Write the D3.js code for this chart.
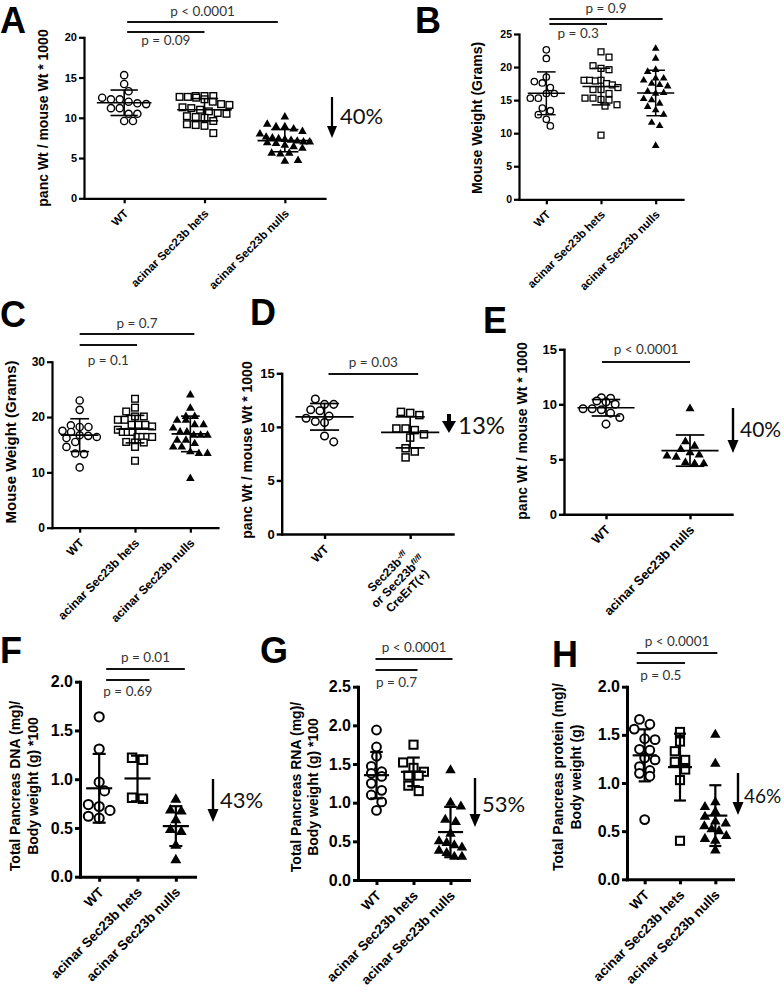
<!DOCTYPE html>
<html><head><meta charset="utf-8">
<script src="https://cdn.jsdelivr.net/npm/d3@7"></script>
<style>
body{margin:0;background:#fff}
svg{display:block}
</style></head><body>
<svg id="fig" width="784" height="995"></svg>
<script>
// ---------------- data ----------------
const cats3 = ["WT", "acinar Sec23b hets", "acinar Sec23b nulls"];
const catsD = ["WT", "Sec23b-/fl or Sec23bfl/fl CreErT(+)"];
const catsE = ["WT", "acinar Sec23b nulls"];

// A: panc Wt / mouse Wt * 1000
const A_WT    = [15.3, 14.2, 13.3, 12.5, 12.3, 12.3, 12.0, 11.8, 11.7, 11.2, 11.2, 10.5, 10.5, 9.6, 9.6];
const A_hets  = [12.7, 12.7, 12.6, 12.6, 12.5, 12.7, 12.3, 12.0, 11.7, 11.6, 11.3, 11.2, 11.0, 10.8, 10.6, 10.5, 10.2, 10.1, 10.0, 9.6, 9.2, 9.1, 9.0, 8.1];
const A_nulls = [10.1, 9.2, 8.9, 8.9, 8.6, 8.3, 8.0, 7.6, 7.5, 7.4, 7.3, 7.2, 7.1, 7.0, 7.0, 6.9, 6.8, 6.6, 6.4, 6.2, 5.6, 5.5, 5.6, 4.7, 4.6];
// B: mouse weight (g)
const B_WT    = [22.6, 21.3, 18.5, 17.8, 17.6, 16.9, 16.0, 16.0, 15.3, 15.3, 13.8, 13.4, 12.8, 12.1, 11.1];
const B_hets  = [22.3, 21.5, 20.2, 19.8, 19.6, 18.0, 18.0, 17.9, 18.0, 17.5, 17.3, 16.9, 16.6, 16.6, 16.0, 15.3, 15.3, 15.1, 15.0, 14.3, 14.1, 9.7];
const B_nulls = [22.8, 21.3, 19.6, 19.3, 18.3, 18.3, 18.0, 17.5, 17.3, 17.1, 16.3, 16.0, 16.1, 15.2, 15.0, 14.5, 14.0, 13.5, 12.8, 11.6, 11.1, 8.1];
// C: mouse weight (g)
const C_WT    = [23.0, 21.3, 18.5, 18.2, 18.2, 17.5, 17.3, 16.7, 16.6, 16.4, 16.2, 15.5, 14.6, 13.4, 13.3, 10.9];
const C_hets  = [23.3, 21.7, 21.0, 20.1, 20.1, 19.5, 19.5, 18.6, 18.6, 18.6, 18.3, 17.7, 17.3, 17.3, 17.3, 16.4, 16.4, 16.4, 16.4, 15.5, 15.4, 15.4, 14.6, 12.1];
const C_nulls = [24.0, 21.6, 20.1, 20.1, 19.4, 19.4, 18.6, 18.6, 18.0, 17.3, 17.3, 16.7, 16.7, 16.7, 15.8, 15.8, 15.2, 14.6, 14.6, 13.7, 13.4, 13.4, 8.9];
// D: panc Wt / mouse Wt * 1000
const D_WT    = [12.6, 12.1, 12.1, 11.6, 11.5, 11.0, 10.8, 10.5, 10.4, 9.15, 8.6];
const D_mut   = [11.4, 11.3, 11.1, 9.85, 9.85, 9.7, 9.3, 9.0, 8.0, 7.7, 7.15];
// E: panc Wt / mouse Wt * 1000
const E_WT    = [10.6, 10.55, 10.3, 10.2, 10.0, 9.6, 9.6, 9.5, 9.2, 8.8, 8.2];
const E_nulls = [9.6, 6.6, 6.2, 5.9, 5.6, 5.4, 5.3, 5.2, 4.7, 4.6, 4.6];
// F: total pancreas DNA
const F_WT    = [1.64, 1.31, 0.97, 0.88, 0.74, 0.72, 0.68, 0.62, 0.60];
const F_hets  = [1.22, 1.20, 0.81, 0.80];
const F_nulls = [0.79, 0.68, 0.67, 0.58, 0.48, 0.46, 0.32, 0.17];
// G: total pancreas RNA
const G_WT    = [1.94, 1.72, 1.60, 1.47, 1.40, 1.38, 1.34, 1.25, 1.16, 1.10, 1.01, 0.90];
const G_hets  = [1.75, 1.52, 1.45, 1.40, 1.35, 1.35, 1.22, 1.15];
const G_nulls = [1.42, 1.0, 0.95, 0.78, 0.75, 0.60, 0.50, 0.48, 0.45, 0.42, 0.38, 0.35, 0.30, 0.30];
// H: total pancreas protein
const H_WT    = [1.66, 1.61, 1.56, 1.46, 1.45, 1.35, 1.34, 1.26, 1.24, 1.17, 1.13, 1.10, 1.07, 0.62];
const H_hets  = [1.53, 1.43, 1.33, 1.24, 1.22, 1.14, 1.03, 0.40];
const H_nulls = [1.5, 1.2, 0.8, 0.75, 0.7, 0.65, 0.6, 0.58, 0.55, 0.52, 0.5, 0.45, 0.42, 0.4, 0.3];

// tick values
const ticksA = [0, 5, 10, 15, 20];
const ticksB = [0, 5, 10, 15, 20, 25];
const ticksC = [0, 10, 20, 30];
const ticksD = [0, 5, 10, 15];
const ticksE = [0, 5, 10, 15];
const ticksF = [0, 0.5, 1.0, 1.5, 2.0];
const ticksG = [0, 0.5, 1.0, 1.5, 2.0, 2.5];
const ticksH = [0, 0.5, 1.0, 1.5, 2.0];

// p-values and reductions
const pA = ["p < 0.0001", "p = 0.09"];
const pB = ["p = 0.9", "p = 0.3"];
const pC = ["p = 0.7", "p = 0.1"];
const pD = ["p = 0.03"];
const pE = ["p < 0.0001"];
const pF = ["p = 0.01", "p = 0.69"];
const pG = ["p < 0.0001", "p = 0.7"];
const pH = ["p < 0.0001", "p = 0.5"];
const dropLabels = {A: "40%", D: "13%", E: "40%", F: "43%", G: "53%", H: "46%"};

// axis titles
const ylabA = ["panc Wt / mouse Wt * 1000"];
const ylabB = ["Mouse Weight (Grams)"];
const ylabF = ["Total Pancreas DNA (mg)/", "Body weight (g) *100"];
const ylabG = ["Total Pancreas RNA (mg)/", "Body weight (g) *100"];
const ylabH = ["Total Pancreas protein (mg)/", "Body weight (g)"];

// ---------------- drawing ----------------
const FONT = "'Liberation Sans', Arial, sans-serif";
const ANNO = "Lato, 'Open Sans', sans-serif";
const svg = d3.select("#fig");
const fInt = d3.format("d"), f1 = d3.format(".1f");
const shapes3 = ["circle", "square", "triangle"];

const panels = [
  {id:"A", cats:cats3, series:[A_WT,A_hets,A_nulls], shapes:shapes3, yMax:20, ticks:ticksA, fmt:fInt, p:pA, ylab:ylabA,
   L:{ax:84, y0:198.3, yt:37.3, xEnd:325, tfs:11, xfs:11.5, yfs:14, ylx:[43], yly:118, r:3.6, sw:1.4, aw:2.2, bw:1.6,
      letter:[0,33], br:[{i:0,j:2,e1:3,e2:-7,y:22,dy:-6},{i:0,j:1,e1:3,e2:0,y:32,dy:13}],
      arrow:{x:332,y1:97,y2:138,sw:2.2,hw:10,hh:12,tx:340,ty:124,fs:22}}},
  {id:"B", cats:cats3, series:[B_WT,B_hets,B_nulls], shapes:shapes3, yMax:25, ticks:ticksB, fmt:fInt, p:pB, ylab:ylabB,
   L:{ax:519, y0:199.3, yt:34, xEnd:683, tfs:10.5, xfs:11.5, yfs:14, ylx:[477], yly:118, r:3.2, sw:1.3, aw:2.2, bw:1.5,
      letter:[415,33], br:[{i:0,j:2,e1:3,e2:7,y:19,dy:-6},{i:0,j:1,e1:3,e2:6,y:24,dy:14}]}},
  {id:"C", cats:cats3, series:[C_WT,C_hets,C_nulls], shapes:shapes3, yMax:30, ticks:ticksC, fmt:fInt, p:pC, ylab:ylabB,
   L:{ax:52, y0:527.7, yt:361.7, xEnd:218, tfs:12, xfs:12, yfs:15, ylx:[11], yly:442, r:3.6, sw:1.4, aw:2.2, bw:1.6,
      letter:[0,327], br:[{i:0,j:2,e1:0,e2:4,y:334,dy:-6},{i:0,j:1,e1:0,e2:2,y:345,dy:20}]}},
  {id:"D", cats:catsD, series:[D_WT,D_mut], shapes:["circle","square"], yMax:15, ticks:ticksD, fmt:fInt, p:pD, ylab:ylabA,
   L:{ax:281.7, y0:534, yt:373.3, xEnd:453, tfs:13, xfs:12, yfs:14, ylx:[247], yly:450, r:3.8, sw:1.5, aw:2.4, bw:1.7,
      letter:[250,325], br:[{i:0,j:1,e1:4,e2:8,y:374,dy:-7}],
      arrow:{x:449,y1:414,y2:433,sw:4,hw:14,hh:12,tx:458,ty:434,fs:24}}},
  {id:"E", cats:catsE, series:[E_WT,E_nulls], shapes:["circle","triangle"], yMax:15, ticks:ticksE, fmt:fInt, p:pE, ylab:ylabA,
   L:{ax:564, y0:514.3, yt:349.3, xEnd:732, tfs:13, xfs:13, yfs:14, ylx:[522], yly:431, r:3.8, sw:1.5, aw:2.4, bw:1.7,
      letter:[483,333], br:[{i:0,j:1,e1:-4,e2:0,y:362,dy:-8}],
      arrow:{x:733,y1:408,y2:453,sw:2.4,hw:11,hh:13,tx:740,ty:437,fs:21}}},
  {id:"F", cats:cats3, series:[F_WT,F_hets,F_nulls], shapes:shapes3, yMax:2, ticks:ticksF, fmt:f1, p:pF, ylab:ylabF,
   L:{ax:80, y0:876.7, yt:681.7, xEnd:195, tfs:16, xfs:13.5, yfs:14, ylx:[15,33], yly:786, r:4.6, sw:2, aw:3, bw:2.2,
      letter:[0,663], br:[{i:0,j:2,e1:7,e2:9,y:669,dy:-7},{i:0,j:1,e1:7,e2:12,y:680,dy:16}],
      arrow:{x:213,y1:779,y2:822,sw:2.4,hw:11,hh:13,tx:220,ty:808,fs:22}}},
  {id:"G", cats:cats3, series:[G_WT,G_hets,G_nulls], shapes:shapes3, yMax:2.5, ticks:ticksG, fmt:f1, p:pG, ylab:ylabG,
   L:{ax:358, y0:880, yt:686.7, xEnd:469, tfs:16, xfs:13.5, yfs:14, ylx:[296,313], yly:787, r:4.4, sw:2, aw:3, bw:2.2,
      letter:[260,663], br:[{i:0,j:2,e1:-1,e2:2,y:659,dy:-7},{i:0,j:1,e1:-1,e2:4,y:670,dy:17}],
      arrow:{x:475,y1:778,y2:827,sw:2.4,hw:11,hh:13,tx:482,ty:812,fs:22}}},
  {id:"H", cats:cats3, series:[H_WT,H_hets,H_nulls], shapes:shapes3, yMax:2, ticks:ticksH, fmt:f1, p:pH, ylab:ylabH,
   L:{ax:627, y0:879.3, yt:686.7, xEnd:733, tfs:16, xfs:13.5, yfs:14, ylx:[558,576], yly:777, r:4.4, sw:2, aw:3, bw:2.2,
      letter:[552,667], br:[{i:0,j:2,e1:-8,e2:2,y:653,dy:-7},{i:0,j:1,e1:-8,e2:5,y:663,dy:17}],
      arrow:{x:738,y1:773,y2:815,sw:2.4,hw:11,hh:13,tx:744,ty:803,fs:19}}}
];

// GraphPad-like scatter: points in the same horizontal band are spread evenly, within a max half-width
function spread(vals, y, cx, r, maxHalf) {
  const h = 2 * r + 2, minD = 2 * r + 0.3;
  const items = vals.map((v, k) => ({v, k, py: y(v)}));
  const bins = Array.from(d3.group(items, o => Math.round(o.py / h))).sort((a, b) => a[0] - b[0]);
  const placed = [];
  for (const [, arr] of bins) {
    const n = arr.length;
    const d = n > 1 ? Math.min(2 * r + 1.6, (2 * maxHalf) / (n - 1)) : 0;
    const base = arr.map((o, j) => (j - (n - 1) / 2) * d);
    const dd = 2 * r + 1.6;
    const shifts = [0, dd / 2, -dd / 2, dd, -dd, 1.5 * dd, -1.5 * dd];
    let chosen = 0;
    for (const s of shifts) {
      if (base.some(b => Math.abs(b + s) > maxHalf + 0.5)) continue;
      const ok = arr.every((o, j) => placed.every(p => Math.hypot(p.x - (cx + base[j] + s), p.y - o.py) >= minD));
      if (ok) { chosen = s; break; }
    }
    arr.forEach((o, j) => placed.push({x: cx + base[j] + chosen, y: o.py}));
  }
  return placed;
}

function drawPanel(P) {
  const L = P.L;
  const g = svg.append("g").attr("class", "panel-" + P.id);
  const y = d3.scaleLinear().domain([0, P.yMax]).range([L.y0, L.yt]);
  const x = d3.scalePoint().domain(P.cats).range([L.ax, L.xEnd]).padding(0.5);
  const step = x.step();

  const yAxis = g.append("g").attr("transform", `translate(${L.ax},0)`)
    .call(d3.axisLeft(y).tickValues(P.ticks).tickFormat(P.fmt).tickSize(5).tickSizeOuter(0).tickPadding(2));
  const xAxis = g.append("g").attr("transform", `translate(0,${L.y0})`)
    .call(d3.axisBottom(x).tickSize(5).tickSizeOuter(0).tickFormat(""));
  [yAxis, xAxis].forEach(a => {
    a.select(".domain").attr("stroke", "#000").attr("stroke-width", L.aw).attr("stroke-linecap", "square");
    a.selectAll(".tick line").attr("stroke", "#000").attr("stroke-width", L.aw);
  });
  yAxis.selectAll(".tick text").attr("font-size", L.tfs).attr("font-weight", "bold")
    .attr("font-family", FONT).attr("fill", "#000");

  // y-axis title
  P.ylab.forEach((t, k) => {
    g.append("text").attr("transform", `translate(${L.ylx[k]},${L.yly}) rotate(-90)`)
      .attr("text-anchor", "middle").attr("dy", "0.35em")
      .attr("font-family", FONT).attr("font-weight", "bold").attr("font-size", L.yfs).text(t);
  });

  // x-axis category labels (rotated)
  P.cats.forEach((c, i) => {
    const cx = x(c);
    if (c.startsWith("Sec23b-/fl")) {
      const gg = g.append("g").attr("transform", `translate(${cx + 2},${L.y0 + 13}) rotate(-45)`);
      const lines = [[["Sec23b", false], ["-/fl", true]], [["or Sec23b", false], ["fl/fl", true]], [["CreErT(+)", false]]];
      const texts = lines.map((segs, li) => {
        const t = gg.append("text").attr("y", li * 1.15 * L.xfs).attr("dy", "0.35em")
          .attr("text-anchor", "middle").attr("font-family", FONT).attr("font-weight", "bold").attr("font-size", L.xfs);
        segs.forEach(([s, sup]) => {
          const ts = t.append("tspan").text(s);
          if (sup) ts.attr("font-size", L.xfs * 0.65).attr("font-style", "italic").attr("baseline-shift", "super");
        });
        return t;
      });
      const w = d3.max(texts, t => t.node().getComputedTextLength());
      texts.forEach(t => t.attr("x", -w / 2));
    } else {
      g.append("text").attr("transform", `translate(${cx + 2},${L.y0 + 13}) rotate(-45)`)
        .attr("text-anchor", "end").attr("dy", "0.35em")
        .attr("font-family", FONT).attr("font-weight", "bold").attr("font-size", L.xfs).text(c);
    }
  });

  // points + mean/SD
  P.series.forEach((vals, i) => {
    const cx = x(P.cats[i]);
    const pts = spread(vals, y, cx, L.r, step * 0.31);
    const shape = P.shapes[i];
    const pg = g.append("g");
    if (shape === "circle") {
      pg.selectAll("circle").data(pts).join("circle").attr("cx", d => d.x).attr("cy", d => d.y)
        .attr("r", L.r).attr("fill", "#fff").attr("stroke", "#000").attr("stroke-width", L.sw);
    } else if (shape === "square") {
      const s = L.r * 1.85;
      pg.selectAll("rect").data(pts).join("rect").attr("x", d => d.x - s / 2).attr("y", d => d.y - s / 2)
        .attr("width", s).attr("height", s).attr("fill", "#fff").attr("stroke", "#000").attr("stroke-width", L.sw);
    } else {
      const sym = d3.symbol(d3.symbolTriangle, Math.pow(L.r * 1.7, 2) * 0.85);
      pg.selectAll("path").data(pts).join("path").attr("transform", d => `translate(${d.x},${d.y})`)
        .attr("d", sym).attr("fill", "#000");
    }
    const m = d3.mean(vals), sd = d3.deviation(vals);
    const mh = step * 0.34, ch = step * 0.17;
    const eg = g.append("g").attr("stroke", "#000").attr("stroke-width", L.bw);
    eg.append("line").attr("x1", cx - mh).attr("x2", cx + mh).attr("y1", y(m)).attr("y2", y(m));
    eg.append("line").attr("x1", cx).attr("x2", cx).attr("y1", y(m + sd)).attr("y2", y(m - sd));
    [m + sd, m - sd].forEach(v => eg.append("line").attr("x1", cx - ch).attr("x2", cx + ch).attr("y1", y(v)).attr("y2", y(v)));
  });

  // significance bars
  L.br.forEach((b, k) => {
    const x1 = x(P.cats[b.i]) + b.e1, x2 = x(P.cats[b.j]) + b.e2;
    g.append("line").attr("x1", x1).attr("x2", x2).attr("y1", b.y).attr("y2", b.y)
      .attr("stroke", "#111").attr("stroke-width", 1.8);
    g.append("text").attr("x", (x1 + x2) / 2).attr("y", b.y + b.dy).attr("text-anchor", "middle")
      .attr("font-family", ANNO).attr("font-size", 13.5).attr("fill", "#333").text(P.p[k]);
  });

  // reduction arrow
  if (L.arrow) {
    const a = L.arrow;
    g.append("line").attr("x1", a.x).attr("x2", a.x).attr("y1", a.y1).attr("y2", a.y2 - a.hh + 1)
      .attr("stroke", "#000").attr("stroke-width", a.sw);
    g.append("path").attr("d", `M${a.x - a.hw / 2},${a.y2 - a.hh}L${a.x + a.hw / 2},${a.y2 - a.hh}L${a.x},${a.y2}Z`)
      .attr("fill", "#000");
    g.append("text").attr("x", a.tx).attr("y", a.ty).attr("font-family", ANNO).attr("font-size", a.fs)
      .attr("fill", "#111").text(dropLabels[P.id]);
  }

  // panel letter
  g.append("text").attr("x", L.letter[0]).attr("y", L.letter[1]).attr("font-family", FONT)
    .attr("font-weight", "bold").attr("font-size", 36).text(P.id);
}

panels.forEach(drawPanel);
</script>
</body></html>
